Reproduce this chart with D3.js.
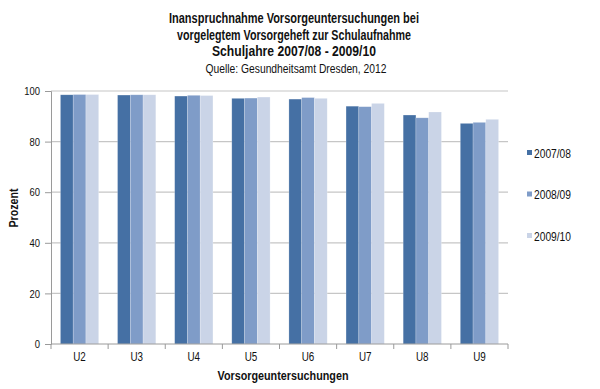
<!DOCTYPE html>
<html>
<head>
<meta charset="utf-8">
<script src="https://cdn.jsdelivr.net/npm/d3@7"></script>
<style>
  body { margin: 0; background: #fff; }
  svg text { font-family: "Liberation Sans", Arial, sans-serif; fill: #111; }
</style>
</head>
<body>
<div id="chart"></div>
<script>
// data
const categories = ["U2", "U3", "U4", "U5", "U6", "U7", "U8", "U9"];
const seriesNames = ["2007/08", "2008/09", "2009/10"];
const values2007 = [98.5, 98.4, 98.0, 97.1, 96.8, 94.0, 90.5, 87.2];
const values2008 = [98.6, 98.5, 98.3, 97.2, 97.4, 93.8, 89.4, 87.6];
const values2009 = [98.6, 98.5, 98.2, 97.6, 97.1, 95.1, 91.7, 88.8];
const yTicks = [0, 20, 40, 60, 80, 100];
const titleLines = ["Inanspruchnahme Vorsorgeuntersuchungen bei",
                    "vorgelegtem Vorsorgeheft zur Schulaufnahme",
                    "Schuljahre 2007/08 - 2009/10"];
const subtitle = "Quelle: Gesundheitsamt Dresden, 2012";

const colors = ["#4570a4", "#7f9cc8", "#cad4e7"];
const allValues = [values2007, values2008, values2009];

const width = 600;
const height = 389;
const marginTop = 91;
const marginRight = 92;
const marginBottom = 45;
const marginLeft = 51;

// squash text horizontally to the narrow look of the picture
function condense(sel, k) {
    sel.each(function () {
        const w = this.getComputedTextLength();
        d3.select(this)
            .attr("textLength", w * k)
            .attr("lengthAdjust", "spacingAndGlyphs");
    });
}

const svg = d3.select("#chart")
    .append("svg")
    .attr("width", width)
    .attr("height", height)
    .attr("viewBox", [0, 0, width, height]);

const x = d3.scaleBand(categories, [marginLeft, width - marginRight])
    .paddingInner(0.33)
    .paddingOuter(0.165);
const xSub = d3.scaleBand(seriesNames, [0, x.bandwidth()]);
const y = d3.scaleLinear([0, 100], [height - marginBottom, marginTop]);

// gridlines
svg.append("g")
    .selectAll("line")
    .data(yTicks.slice(1))
    .join("line")
    .attr("x1", marginLeft)
    .attr("x2", width - marginRight)
    .attr("y1", d => y(d))
    .attr("y2", d => y(d))
    .attr("stroke", "#c6c6c6")
    .attr("stroke-width", 1.2);

// bars
svg.append("g")
    .selectAll("g")
    .data(categories)
    .join("g")
    .attr("transform", d => `translate(${x(d)},0)`)
    .selectAll("rect")
    .data((d, i) => seriesNames.map((s, j) => ({ key: s, value: allValues[j][i], color: colors[j] })))
    .join("rect")
    .attr("x", d => xSub(d.key))
    .attr("width", xSub.bandwidth())
    .attr("y", d => y(d.value))
    .attr("height", d => y(0) - y(d.value))
    .attr("fill", d => d.color)
    .attr("stroke", "#ffffff")
    .attr("stroke-opacity", 0.35)
    .attr("stroke-width", 0.6);

// y axis
svg.append("g")
    .attr("transform", `translate(${marginLeft},0)`)
    .call(d3.axisLeft(y).tickValues(yTicks).tickSize(6).tickPadding(5))
    .call(g => g.selectAll("path, line").attr("stroke", "#9a9a9a"))
    .call(g => g.selectAll("text").attr("font-size", 11.5).attr("fill", "#111").call(condense, 0.82));

svg.append("text")
    .attr("transform", `translate(17.5,208) rotate(-90)`)
    .attr("text-anchor", "middle")
    .attr("font-size", 12.5)
    .attr("font-weight", "bold")
    .attr("textLength", 39)
    .attr("lengthAdjust", "spacingAndGlyphs")
    .text("Prozent");

// x axis with ticks between categories
const xAxis = svg.append("g")
    .attr("transform", `translate(0,${height - marginBottom})`);
xAxis.append("line")
    .attr("x1", marginLeft)
    .attr("x2", width - marginRight)
    .attr("stroke", "#9a9a9a");
xAxis.selectAll(".sep")
    .data(d3.range(categories.length + 1))
    .join("line")
    .attr("class", "sep")
    .attr("x1", i => marginLeft + i * x.step())
    .attr("x2", i => marginLeft + i * x.step())
    .attr("y2", 5)
    .attr("stroke", "#9a9a9a");
xAxis.selectAll(".lbl")
    .data(categories)
    .join("text")
    .attr("class", "lbl")
    .attr("x", d => x(d) + x.bandwidth() / 2)
    .attr("y", 17)
    .attr("text-anchor", "middle")
    .attr("font-size", 12)
    .text(d => d)
    .call(condense, 0.82);
xAxis.append("text")
    .attr("x", 283)
    .attr("y", 36)
    .attr("text-anchor", "middle")
    .attr("font-size", 13)
    .attr("font-weight", "bold")
    .attr("textLength", 131)
    .attr("lengthAdjust", "spacingAndGlyphs")
    .text("Vorsorgeuntersuchungen");

// title
const titleWidths = [250, 234, 164];
svg.append("g")
    .selectAll("text")
    .data(titleLines)
    .join("text")
    .attr("x", 294)
    .attr("y", (d, i) => 23 + i * 16.7)
    .attr("text-anchor", "middle")
    .attr("font-size", 14)
    .attr("font-weight", "bold")
    .attr("textLength", (d, i) => titleWidths[i])
    .attr("lengthAdjust", "spacingAndGlyphs")
    .text(d => d);
svg.append("text")
    .attr("x", 296)
    .attr("y", 73)
    .attr("text-anchor", "middle")
    .attr("font-size", 12.5)
    .attr("fill", "#333")
    .attr("textLength", 181)
    .attr("lengthAdjust", "spacingAndGlyphs")
    .text(subtitle);

// legend
const legend = svg.append("g")
    .selectAll("g")
    .data(seriesNames)
    .join("g")
    .attr("transform", (d, i) => `translate(527,${153 + i * 41.5})`);
legend.append("rect")
    .attr("y", -3)
    .attr("width", 5)
    .attr("height", 5)
    .attr("fill", (d, i) => colors[i]);
legend.append("text")
    .attr("x", 7)
    .attr("y", 4.5)
    .attr("font-size", 12)
    .attr("textLength", 37)
    .attr("lengthAdjust", "spacingAndGlyphs")
    .text(d => d);
</script>
</body>
</html>
